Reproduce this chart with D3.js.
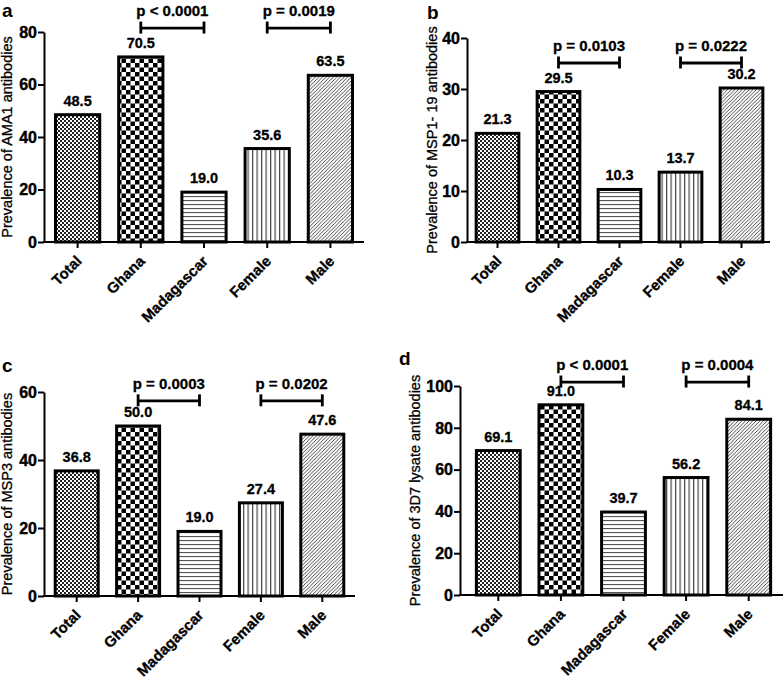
<!DOCTYPE html>
<html>
<head>
<meta charset="utf-8">
<script src="https://cdn.jsdelivr.net/npm/d3@7/dist/d3.min.js"></script>
<style>
  html, body { margin: 0; padding: 0; background: #fff; }
  svg { display: block; font-family: "Liberation Sans", Arial, sans-serif; }
</style>
</head>
<body>
<svg id="chart" width="784" height="682"></svg>
<script>
// ---------- DATA ----------
const categories = ["Total", "Ghana", "Madagascar", "Female", "Male"];
const ama1Values   = [48.5, 70.5, 19.0, 35.6, 63.5];
const msp119Values = [21.3, 29.5, 10.3, 13.7, 30.2];
const msp3Values   = [36.8, 50.0, 19.0, 27.4, 47.6];
const lysateValues = [69.1, 91.0, 39.7, 56.2, 84.1];
const yMaxes = [80, 40, 60, 100];
const yTickSteps = [20, 10, 20, 20];
const axisTitles = [
  "Prevalence of AMA1 antibodies",
  "Prevalence of MSP1- 19 antibodies",
  "Prevalence of MSP3 antibodies",
  "Prevalence of 3D7 lysate antibodies"
];
const panelLetters = ["a", "b", "c", "d"];
const pCountry = ["p < 0.0001", "p = 0.0103", "p = 0.0003", "p < 0.0001"];
const pSex     = ["p = 0.0019", "p = 0.0222", "p = 0.0202", "p = 0.0004"];
const bracketLevels = [81.5, 35.1, 57.4, 101.9];
const countryPair = ["Ghana", "Madagascar"];
const sexPair = ["Female", "Male"];
const seriesList = [ama1Values, msp119Values, msp3Values, lysateValues];

// ---------- LAYOUT ----------
const layouts = [
  {axisX: 44,  x0: 46,  x1: 362, axisEnd: 364, yBase: 242, yTop: 32,  titleX: 12,  letterX: 2,   letterY: 17},
  {axisX: 467, x0: 467, x1: 772, axisEnd: 770, yBase: 242, yTop: 38,  titleX: 437, letterX: 427, letterY: 19},
  {axisX: 44,  x0: 46,  x1: 353, axisEnd: 355, yBase: 596, yTop: 392, titleX: 12,  letterX: 2,   letterY: 372},
  {axisX: 460, x0: 467, x1: 780, axisEnd: 783, yBase: 595, yTop: 386, titleX: 420, letterX: 399, letterY: 365}
];

const svg = d3.select("#chart");
svg.append("rect").attr("width", 784).attr("height", 682).attr("fill", "#fff");

// ---------- PATTERNS ----------
const defs = svg.append("defs");
function checker(id, s, col) {
  const p = defs.append("pattern").attr("id", id).attr("patternUnits", "userSpaceOnUse")
    .attr("width", 2 * s).attr("height", 2 * s);
  p.append("rect").attr("width", 2 * s).attr("height", 2 * s).attr("fill", "#fff");
  p.append("rect").attr("width", s).attr("height", s).attr("fill", col);
  p.append("rect").attr("x", s).attr("y", s).attr("width", s).attr("height", s).attr("fill", col);
}
checker("pat0", 2, "#222");
checker("pat1", 4.5, "#000");
(function () {
  const p = defs.append("pattern").attr("id", "pat2").attr("patternUnits", "userSpaceOnUse")
    .attr("width", 8).attr("height", 4);
  p.append("rect").attr("width", 8).attr("height", 4).attr("fill", "#fff");
  p.append("rect").attr("y", 0).attr("width", 8).attr("height", 1.1).attr("fill", "#555");
})();
(function () {
  const p = defs.append("pattern").attr("id", "pat3").attr("patternUnits", "userSpaceOnUse")
    .attr("width", 4.5).attr("height", 8);
  p.append("rect").attr("width", 4.5).attr("height", 8).attr("fill", "#fff");
  p.append("rect").attr("x", 0).attr("width", 1.2).attr("height", 8).attr("fill", "#444");
})();
(function () {
  const s = 3.6;
  const p = defs.append("pattern").attr("id", "pat4").attr("patternUnits", "userSpaceOnUse")
    .attr("width", s).attr("height", s);
  p.append("rect").attr("width", s).attr("height", s).attr("fill", "#fff");
  p.append("path").attr("d", `M${-s},${s} L${s},${-s} M0,${s} L${s},0 M0,${2 * s} L${2 * s},0`)
    .attr("stroke", "#333").attr("stroke-width", 0.9);
})();

// heavier text helper (reference glyphs look heavier than plain bold)
function heavy(sel, w) {
  return sel.attr("stroke", "#000").attr("stroke-width", w).attr("paint-order", "stroke");
}

// ---------- DRAW ----------
function drawPanel(i) {
  const L = layouts[i];
  const values = seriesList[i];
  const g = svg.append("g");

  const x = d3.scaleBand().domain(categories).range([L.x0, L.x1])
    .paddingInner(0.3).paddingOuter(0.15);
  const y = d3.scaleLinear().domain([0, yMaxes[i]]).range([L.yBase, L.yTop]);
  const yTicks = d3.range(0, yMaxes[i] + 1, yTickSteps[i]);

  // bars
  g.selectAll("rect.bar").data(categories).join("rect")
    .attr("class", "bar")
    .attr("x", d => x(d))
    .attr("width", x.bandwidth())
    .attr("y", (d, k) => y(values[k]))
    .attr("height", (d, k) => L.yBase - y(values[k]))
    .attr("fill", (d, k) => `url(#pat${k})`)
    .attr("stroke", "#000").attr("stroke-width", 3);

  // value labels
  heavy(g.selectAll("text.val").data(categories).join("text")
    .attr("class", "val")
    .attr("x", d => x(d) + x.bandwidth() / 2)
    .attr("y", (d, k) => y(values[k]) - 9)
    .attr("text-anchor", "middle")
    .attr("font-size", 14.5).attr("font-weight", "bold")
    .text((d, k) => values[k].toFixed(1)), 0.3);

  // y axis (lines from d3 axis, labels drawn explicitly)
  const yAxis = g.append("g").attr("transform", `translate(${L.axisX},0)`)
    .call(d3.axisLeft(y).tickValues(yTicks).tickSize(6).tickSizeOuter(0).tickFormat(""));
  yAxis.selectAll("text").remove();
  yAxis.select(".domain").attr("stroke-width", 2).attr("stroke", "#000");
  yAxis.selectAll(".tick line").attr("stroke-width", 2).attr("stroke", "#000");
  heavy(g.selectAll("text.ytl").data(yTicks).join("text")
    .attr("class", "ytl")
    .attr("x", L.axisX - 7)
    .attr("y", d => y(d))
    .attr("dy", "0.36em")
    .attr("text-anchor", "end")
    .attr("font-size", 16).attr("font-weight", "bold").attr("fill", "#000")
    .text(d => d), 0.4);

  // x axis
  const xAxis = g.append("g").attr("transform", `translate(0,${L.yBase})`)
    .call(d3.axisBottom(x).tickSize(6).tickSizeOuter(0).tickFormat(""));
  xAxis.select(".domain").remove();
  xAxis.selectAll("text").remove();
  xAxis.selectAll(".tick line").attr("stroke-width", 2).attr("stroke", "#000");
  g.append("line").attr("x1", L.axisX - 1).attr("x2", L.axisEnd)
    .attr("y1", L.yBase).attr("y2", L.yBase).attr("stroke", "#000").attr("stroke-width", 2);

  // rotated category labels
  heavy(g.selectAll("text.cat").data(categories).join("text")
    .attr("class", "cat")
    .attr("transform", d => `translate(${x(d) + x.bandwidth() / 2 + 5},${L.yBase + 20}) rotate(-45)`)
    .attr("text-anchor", "end")
    .attr("font-size", 15).attr("font-weight", "bold")
    .text(d => d), 0.3);

  // y title
  heavy(g.append("text")
    .attr("transform", `translate(${L.titleX},${(L.yTop + L.yBase) / 2}) rotate(-90)`)
    .attr("text-anchor", "middle")
    .attr("font-size", 14.5)
    .text(axisTitles[i]), 0.3);

  // panel letter
  g.append("text").attr("x", L.letterX).attr("y", L.letterY)
    .attr("font-size", 19).attr("font-weight", "bold").text(panelLetters[i]);

  // brackets
  const by = y(bracketLevels[i]);
  [[countryPair, pCountry[i]], [sexPair, pSex[i]]].forEach(([pair, label]) => {
    const xa = x(pair[0]) + x.bandwidth() / 2;
    const xb = x(pair[1]) + x.bandwidth() / 2;
    const bg = g.append("g").attr("stroke", "#000").attr("stroke-width", 2.8);
    bg.append("line").attr("x1", xa).attr("x2", xb).attr("y1", by).attr("y2", by);
    bg.append("line").attr("x1", xa).attr("x2", xa).attr("y1", by - 6.5).attr("y2", by + 5.5);
    bg.append("line").attr("x1", xb).attr("x2", xb).attr("y1", by - 6.5).attr("y2", by + 5.5);
    heavy(g.append("text").attr("x", (xa + xb) / 2).attr("y", by - 12)
      .attr("text-anchor", "middle")
      .attr("font-size", 15).attr("font-weight", "bold")
      .text(label), 0.3);
  });
}

[0, 1, 2, 3].forEach(drawPanel);
</script>
</body>
</html>
